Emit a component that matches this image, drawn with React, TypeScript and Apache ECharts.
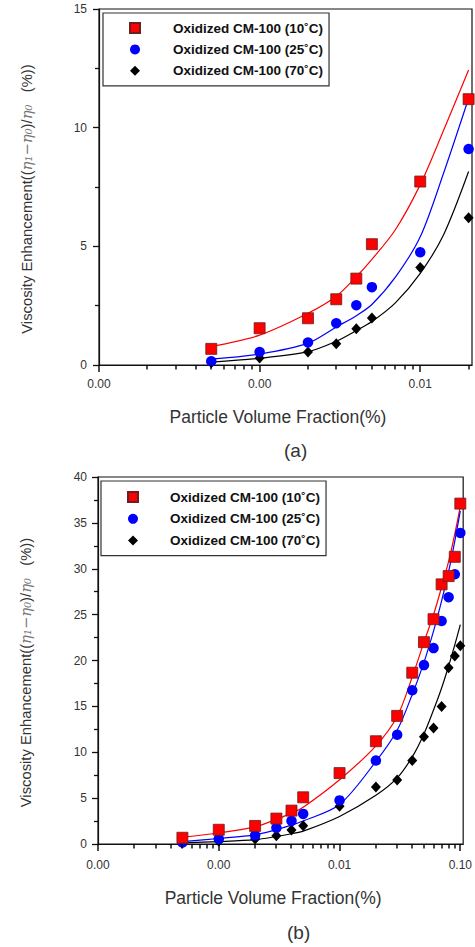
import React, { useEffect, useRef } from 'react';
import * as echarts from 'echarts';

// ---- measured data (particle volume fraction %, viscosity enhancement %) ----
const xValues = [0.0005, 0.001, 0.002, 0.003, 0.004, 0.005, 0.01, 0.02, 0.03, 0.04, 0.05, 0.06, 0.07, 0.08, 0.09, 0.1];
const visc10 = [0.68, 1.55, 1.97, 2.77, 3.64, 5.09, 7.73, 11.2, 13.96, 18.67, 22.0, 24.5, 28.3, 29.2, 31.3, 37.1];
const visc25 = [0.16, 0.55, 0.95, 1.76, 2.52, 3.28, 4.75, 9.1, 11.9, 16.75, 19.5, 21.35, 24.3, 26.9, 29.4, 33.9];
const visc70 = [0.1, 0.29, 0.55, 0.9, 1.53, 1.98, 4.11, 6.2, 6.98, 9.1, 11.7, 12.65, 15.0, 19.2, 20.5, 21.6];
const countA = 8; // panel (a) shows the first 8 points

// ---- fitted curves ----
const fitXA = [0.0005, 0.001, 0.002, 0.003, 0.004, 0.005, 0.007, 0.01, 0.014, 0.02];
const fitA10 = [0.78, 1.26, 2.18, 2.9, 3.72, 4.45, 5.7, 7.6, 9.9, 12.43];
const fitA25 = [0.25, 0.46, 0.92, 1.6, 2.08, 2.55, 3.7, 5.4, 8.1, 11.24];
const fitA70 = [0.12, 0.28, 0.56, 1.0, 1.45, 1.83, 2.62, 3.86, 5.5, 8.15];

const fitXB = [0.0005, 0.001, 0.002, 0.003, 0.004, 0.005, 0.01, 0.02, 0.03, 0.04, 0.05, 0.06, 0.07, 0.08, 0.09, 0.1];
const fitB10 = [0.75, 1.2, 1.87, 2.69, 3.36, 4.0, 7.0, 10.7, 13.9, 18.2, 22.0, 25.0, 28.0, 30.8, 33.8, 36.8];
const fitB25 = [0.26, 0.6, 1.0, 1.57, 2.05, 2.5, 4.3, 9.0, 12.4, 16.3, 19.8, 23.2, 26.5, 29.7, 33.0, 36.3];
const fitB70 = [0.12, 0.26, 0.47, 0.82, 1.12, 1.4, 3.0, 5.3, 7.2, 9.5, 12.0, 14.6, 17.0, 19.4, 21.7, 23.9];

const seriesNames = ['Oxidized CM-100 (10˚C)', 'Oxidized CM-100 (25˚C)', 'Oxidized CM-100 (70˚C)'];
const decadesA = [0.0001, 0.001, 0.01];
const decadesB = [0.0001, 0.001, 0.01, 0.1];
const minorSteps = [2, 3, 4, 5, 6, 7, 8, 9];
const panelLabels = ['(a)', '(b)'];

const FONT = "'Liberation Sans', Arial, sans-serif";
const AXIS = '#111';

const colors = ['#ff0000', '#0000ff', '#000000'];
const symbols = ['rect', 'circle', 'diamond'];
const symbolSizes: any[] = [11, 10.5, [10, 11]];
const borders = ['#6a2020', '#0000c0', '#000000'];

function logTicks(decades: number[], max: number) {
  const out: { v: number; major: boolean }[] = [];
  decades.forEach((d) => {
    if (d <= max) out.push({ v: d, major: true });
    minorSteps.forEach((m) => {
      const v = d * m;
      if (v <= max * 1.0001) out.push({ v, major: false });
    });
  });
  return out;
}

function powLabel(v: number) {
  const l = Math.log10(v);
  return Math.abs(l - Math.round(l)) < 1e-6 ? v.toFixed(2) : '';
}

export default function App() {
  const ref = useRef<HTMLDivElement>(null);
  useEffect(() => {
    if (!ref.current) return;
    const chart = echarts.init(ref.current, null, { renderer: 'svg' });

    const panels = [
      { grid: { left: 99, top: 9, width: 374, height: 356 }, xMax: 0.021, yMax: 15, decades: decadesA, n: countA,
        fitX: fitXA, fits: [fitA10, fitA25, fitA70], xNameGap: 43, xLabelMargin: 13, yLabelMargin: 12,
        legend: { left: 103, top: 13, padding: [8, 6, 8, 26], itemGap: 7.4, textPad: 28 } },
      { grid: { left: 98, top: 477, width: 368, height: 367 }, xMax: 0.1056, yMax: 40, decades: decadesB, n: xValues.length,
        fitX: fitXB, fits: [fitB10, fitB25, fitB70], xNameGap: 45, xLabelMargin: 15, yLabelMargin: 11,
        legend: { left: 101, top: 481, padding: [9, 6, 8, 26], itemGap: 7.8, textPad: 27 } },
    ];
    const values = [visc10, visc25, visc70];

    const grids: any[] = [];
    const xAxes: any[] = [];
    const yAxes: any[] = [];
    const legends: any[] = [];
    const series: any[] = [];

    panels.forEach((p, pi) => {
      grids.push({ ...p.grid, show: true, borderColor: AXIS, borderWidth: 1.2, containLabel: false });
      xAxes.push({
        type: 'log', logBase: 10, gridIndex: pi, min: 0.0001, max: p.xMax,
        axisLine: { show: true, onZero: false, lineStyle: { color: AXIS, width: 1.2 } },
        axisTick: { show: false }, splitLine: { show: false }, minorTick: { show: false },
        axisLabel: { formatter: powLabel, fontSize: 12, color: '#333', fontFamily: FONT, margin: p.xLabelMargin },
        name: 'Particle Volume Fraction(%)', nameLocation: 'middle', nameGap: p.xNameGap,
        nameTextStyle: { fontSize: 17.5, color: '#333', fontFamily: FONT, padding: [0, 15, 0, 0] },
      });
      yAxes.push({
        type: 'value', gridIndex: pi, min: 0, max: p.yMax, interval: 5,
        axisLine: { show: true, lineStyle: { color: AXIS, width: 1.2 } },
        axisTick: { show: true, length: 6, lineStyle: { color: AXIS, width: 1.3 } },
        minorTick: { show: true, splitNumber: 2, length: 4, lineStyle: { color: AXIS, width: 1.3 } },
        splitLine: { show: false },
        axisLabel: { fontSize: 12, color: '#333', fontFamily: FONT, margin: p.yLabelMargin },
        name: '{n|Viscosity Enhancement((}{e|η₁−η₀}{n|)/}{e|η₀}{n|   (%))}',
        nameLocation: 'middle', nameGap: 65,
        nameTextStyle: {
          padding: [0, 24, 0, 0],
          rich: {
            n: { fontSize: 14.8, fontFamily: FONT, color: '#333' },
            e: { fontSize: 14.8, fontFamily: "'DejaVu Serif', serif", fontStyle: 'italic', color: '#777' },
          },
        },
      });
      legends.push({
        orient: 'vertical', left: p.legend.left, top: p.legend.top,
        data: seriesNames, selectedMode: false,
        itemWidth: 10, itemHeight: 10, itemGap: p.legend.itemGap,
        padding: p.legend.padding, borderColor: '#333', borderWidth: 1.2,
        formatter: (n: string) => `{t|${n}}`,
        textStyle: {
          fontSize: 13.5, fontWeight: 'bold', fontFamily: FONT, color: '#111', lineHeight: 14,
          rich: { t: { fontSize: 13.5, fontWeight: 'bold', fontFamily: FONT, color: '#111', lineHeight: 14, padding: [0, 0, 0, p.legend.textPad] } },
        },
      });
      values.forEach((vals, si) => {
        series.push({
          type: 'line', xAxisIndex: pi, yAxisIndex: pi, silent: true,
          data: p.fitX.map((x, i) => [x, p.fits[si][i]]),
          showSymbol: false, smooth: 0.3, lineStyle: { color: colors[si], width: 1.2 }, z: 2,
        });
      });
      values.forEach((vals, si) => {
        series.push({
          type: 'scatter', name: seriesNames[si], xAxisIndex: pi, yAxisIndex: pi,
          data: xValues.slice(0, p.n).map((x, i) => [x, vals[i]]),
          symbol: symbols[si], symbolSize: symbolSizes[si],
          itemStyle: { color: colors[si], borderColor: borders[si], borderWidth: si === 0 ? 0.8 : 0, opacity: 1 },
          z: 3 + (2 - si),
        });
      });
    });

    chart.setOption({
      animation: false,
      backgroundColor: '#ffffff',
      grid: grids,
      xAxis: xAxes,
      yAxis: yAxes,
      legend: legends,
      series,
    });

    // log-axis ticks (major + minor), positioned through the axis scale
    const graphics: any[] = [];
    panels.forEach((p, pi) => {
      logTicks(p.decades, p.xMax).forEach((t) => {
        const pt = chart.convertToPixel({ xAxisIndex: pi, yAxisIndex: pi }, [t.v, 0]) as number[];
        if (!pt || isNaN(pt[0])) return;
        const x = Math.round(pt[0]);
        const y = Math.round(pt[1]);
        graphics.push({
          type: 'rect', silent: true, z: 10,
          shape: { x: x - 0.7, y: y, width: 1.4, height: t.major ? 7 : 4.5 },
          style: { fill: '#000' },
        });
      });
    });
    graphics.push({ type: 'text', left: 284, top: 441, style: { text: panelLabels[0], fontSize: 19, fontFamily: FONT, fill: '#333' } });
    graphics.push({ type: 'text', left: 287, top: 923, style: { text: panelLabels[1], fontSize: 19, fontFamily: FONT, fill: '#333' } });
    chart.setOption({ graphic: graphics });

    return () => chart.dispose();
  }, []);
  return <div ref={ref} style={{ position: 'absolute', left: 0, top: 0, width: 475, height: 947 }} />;
}
